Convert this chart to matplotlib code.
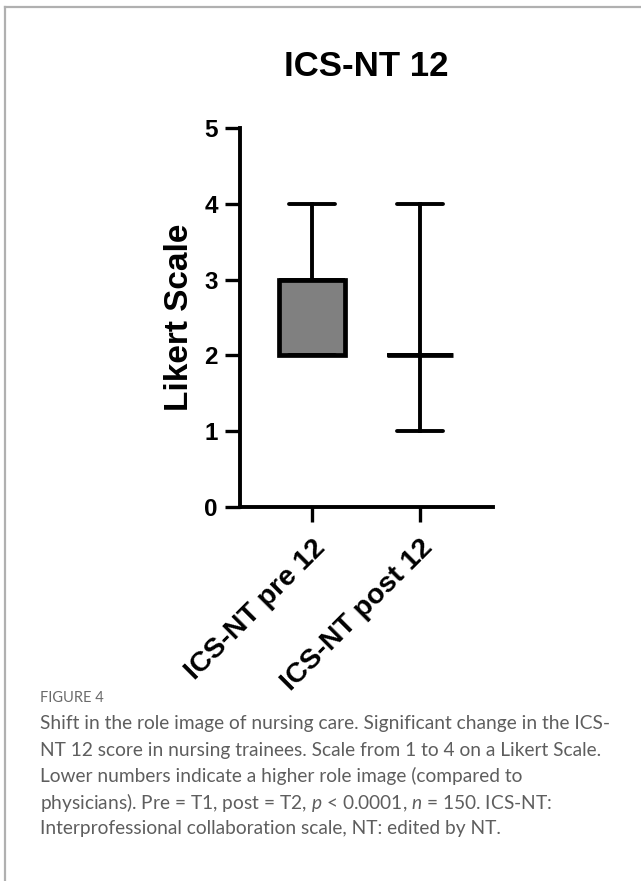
import matplotlib
matplotlib.use('Agg')
import matplotlib.pyplot as plt
from matplotlib.lines import Line2D

# Data (box plot summary per group)
categories = ['ICS-NT pre 12', 'ICS-NT post 12']
whis_low = [2, 1]
q1 = [2, 2]
median = [3, 2]
q3 = [3, 2]
whis_high = [4, 4]
y_ticks = [0, 1, 2, 3, 4, 5]

caption_head = 'FIGURE 4'
caption_lines = [
    'Shift in the role image of nursing care. Significant change in the ICS-',
    'NT 12 score in nursing trainees. Scale from 1 to 4 on a Likert Scale.',
    'Lower numbers indicate a higher role image (compared to',
    r'physicians). Pre = T1, post = T2, $\it{p}$ < 0.0001, $\it{n}$ = 150. ICS-NT:',
    'Interprofessional collaboration scale, NT: edited by NT.',
]

plt.rcParams['font.family'] = ['Liberation Sans', 'DejaVu Sans']
plt.rcParams['mathtext.fontset'] = 'custom'
plt.rcParams['mathtext.it'] = 'Lato:italic'
plt.rcParams['mathtext.rm'] = 'Lato'

fig = plt.figure(figsize=(6.41, 8.81), dpi=100)
ax = fig.add_axes([0.3744, 0.4245, 0.3947, 0.4302])

stats = []
for i in range(len(categories)):
    stats.append({
        'label': categories[i],
        'whislo': whis_low[i],
        'q1': q1[i],
        'med': median[i],
        'q3': q3[i],
        'whishi': whis_high[i],
        'fliers': [],
    })

lw = 2.8
ax.bxp(stats, positions=range(len(categories)), widths=0.62, patch_artist=True,
       showfliers=False, capwidths=0.42,
       boxprops=dict(facecolor='#808080', edgecolor='black', linewidth=3.4),
       medianprops=dict(color='black', linewidth=lw),
       whiskerprops=dict(color='black', linewidth=lw),
       capprops=dict(color='black', linewidth=lw, solid_capstyle='round'))

ax.set_xlim(-0.667, 1.676)
ax.set_ylim(0, 5)
ax.set_yticks(y_ticks)
ax.set_xticks(range(len(categories)))
ax.set_xticklabels(categories, rotation=45, ha='right', rotation_mode='anchor',
                   fontsize=20.5, fontweight='bold')
ax.set_yticklabels([str(t) for t in y_ticks], fontsize=17.5, fontweight='bold')
ax.tick_params(axis='both', direction='out', length=11, width=2.4, pad=5)
ax.tick_params(axis='x', pad=9)

for side in ['top', 'right']:
    ax.spines[side].set_visible(False)
for side in ['left', 'bottom']:
    ax.spines[side].set_linewidth(2.8)

ax.set_ylabel('Likert Scale', fontsize=24, fontweight='bold', labelpad=7)
fig.text(0.571, 0.925, 'ICS-NT 12', ha='center', va='center',
         fontsize=25, fontweight='bold')

# Page frame (top and left border)
frame_color = '#b0b0b0'
fig.add_artist(Line2D([5 / 641, 1], [1 - 7 / 881, 1 - 7 / 881], color=frame_color, linewidth=1.6))
fig.add_artist(Line2D([5 / 641, 5 / 641], [1 - 7 / 881, 0], color=frame_color, linewidth=1.6))

# Caption
cap_color = '#5e5e5e'
fig.text(40 / 641, 1 - 698 / 881, caption_head, ha='left', va='center',
         fontsize=10.5, color='#6a6a6a', family='Lato')
for k, line in enumerate(caption_lines):
    fig.text(40 / 641, 1 - (724 + 26.2 * k) / 881, line, ha='left', va='center',
             fontsize=13.8, color=cap_color, family='Lato')

fig.savefig('out.png', dpi=100)
